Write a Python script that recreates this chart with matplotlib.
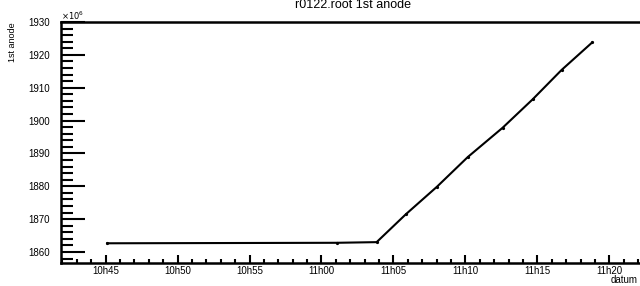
import matplotlib
matplotlib.use("Agg")
import matplotlib.pyplot as plt
import matplotlib.dates as mdates
from datetime import datetime

plt.rcParams['font.family'] = ['Liberation Sans', 'DejaVu Sans']

# data (values in units of 1e6)
times = ["10:45:07", "11:01:03", "11:03:50", "11:05:52", "11:08:02", "11:10:10",
         "11:12:35", "11:14:41", "11:16:41", "11:18:49"]
values = [1862.65, 1862.8, 1863.0, 1871.5, 1879.9, 1888.9, 1897.8, 1906.5, 1915.4, 1923.8]
y_ticks = [1860, 1870, 1880, 1890, 1900, 1910, 1920, 1930]

base = datetime(2020, 1, 1)
def t(s):
    h, m, sec = map(int, s.split(":"))
    return base.replace(hour=h, minute=m, second=sec)

x = [t(s) for s in times]

fig = plt.figure(figsize=(6.4, 2.86), dpi=100)
ax = fig.add_axes([61/640, 23/286, 579/640, 241/286])

ax.plot(x, values, color='black', lw=1.5, marker='o', ms=1.3, mfc='black', mec='black')

ax.set_xlim(t("10:41:54"), t("11:22:08"))
ax.set_ylim(1856.65, 1930)

ax.xaxis.set_major_locator(mdates.MinuteLocator(byminute=range(0, 60, 5)))
ax.xaxis.set_minor_locator(mdates.MinuteLocator())
ax.xaxis.set_major_formatter(mdates.DateFormatter('%Hh%M'))
ax.set_yticks(y_ticks)
ax.yaxis.set_minor_locator(matplotlib.ticker.MultipleLocator(2))

ax.tick_params(axis='y', which='major', direction='in', length=17, width=1.5,
               labelsize=7, pad=8)
ax.tick_params(axis='y', which='minor', direction='in', length=8.5, width=1.5)
ax.tick_params(axis='x', which='major', direction='in', length=6, width=1.5,
               labelsize=7, pad=2)
ax.tick_params(axis='x', which='minor', direction='in', length=3, width=1.5)
ax.tick_params(top=False, right=False, which='both')

for s in ['left', 'bottom', 'top']:
    ax.spines[s].set_linewidth(1.8)
ax.spines['right'].set_visible(False)

fig.text(353/640, 1 - 5.5/286, "r0122.root 1st anode", ha='center', va='center', fontsize=9)
fig.text(61/640, 1 - 16/286, r"$\times10^{6}$", ha='left', va='center', fontsize=6)
fig.text(12.5/640, 1 - 22/286, "1st anode", rotation=90, ha='center', va='top', fontsize=6.5)
fig.text(638/640, 1 - 280/286, "datum", ha='right', va='center', fontsize=7)

fig.savefig("out.png", dpi=100)
